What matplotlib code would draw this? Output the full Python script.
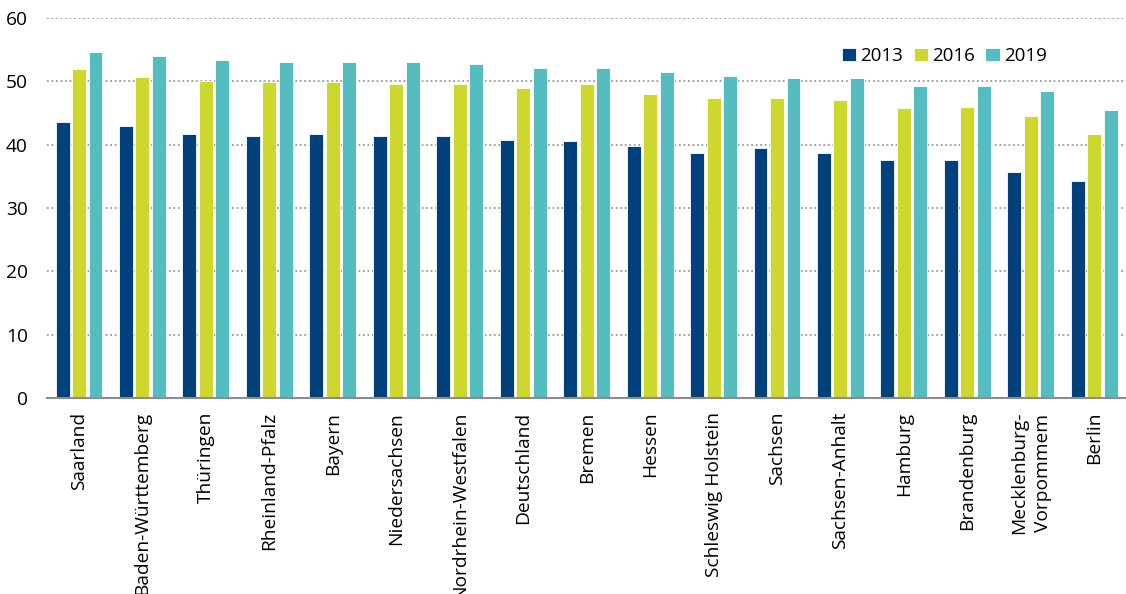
import numpy as np
import matplotlib.pyplot as plt

plt.rcParams["font.family"] = ["Open Sans", "DejaVu Sans"]

regions = [
    "Saarland", "Baden-Württemberg", "Thüringen", "Rheinland-Pfalz", "Bayern",
    "Niedersachsen", "Nordrhein-Westfalen", "Deutschland", "Bremen", "Hessen",
    "Schleswig Holstein", "Sachsen", "Sachsen-Anhalt", "Hamburg", "Brandenburg",
    "Mecklenburg-\nVorpommem", "Berlin",
]
v2013 = [43.6, 43.0, 41.7, 41.4, 41.7, 41.4, 41.4, 40.7, 40.5, 39.8,
         38.6, 39.5, 38.6, 37.6, 37.6, 35.7, 34.2]
v2016 = [52.0, 50.7, 50.1, 49.8, 49.8, 49.5, 49.5, 48.9, 49.5, 47.9,
         47.3, 47.3, 47.0, 45.7, 46.0, 44.5, 41.7]
v2019 = [54.6, 54.0, 53.4, 53.0, 53.0, 53.0, 52.7, 52.1, 52.1, 51.5,
         50.8, 50.5, 50.5, 49.3, 49.3, 48.4, 45.5]
years = ["2013", "2016", "2019"]
colors = ["#00407C", "#CED72D", "#55BDC0"]

fig = plt.figure(figsize=(11.26, 5.94), dpi=100)
ax = fig.add_axes([0.042, 0.33, 0.958, 0.64])

x = np.arange(len(regions))
w = 0.22
step = 0.26
for i, (vals, lab, c) in enumerate(zip([v2013, v2016, v2019], years, colors)):
    ax.bar(x + (i - 1) * step, vals, width=w, color=c, label=lab,
           edgecolor="white", linewidth=0.6, zorder=3)

ax.set_ylim(0, 60)
ax.set_xlim(-0.5, len(regions) - 0.5)
ax.set_yticks(range(0, 61, 10))
ax.yaxis.grid(True, linestyle=(0, (1, 1.5)), color="#9a9a9a", linewidth=1.3, zorder=0)
ax.set_axisbelow(True)

for s in ["top", "right", "left"]:
    ax.spines[s].set_visible(False)
ax.spines["bottom"].set_color("#8c8c8c")
ax.spines["bottom"].set_linewidth(1.5)
ax.spines["bottom"].set_zorder(4)

ax.set_xticks(x)
ax.set_xticklabels(regions, rotation=90, va="top", ha="center",
                   fontsize=13.8, linespacing=1.45)
ax.tick_params(axis="x", length=0, pad=10)
ax.tick_params(axis="y", length=0, pad=14, labelsize=13.8)

leg = fig.legend(loc="center left", bbox_to_anchor=(0.741, 1 - 56 / 594), ncol=3,
                 frameon=False, fontsize=13.5, handlelength=0.75, handleheight=0.75,
                 handletextpad=0.25, columnspacing=0.55, borderaxespad=0)

fig.savefig("out.png", dpi=100)
